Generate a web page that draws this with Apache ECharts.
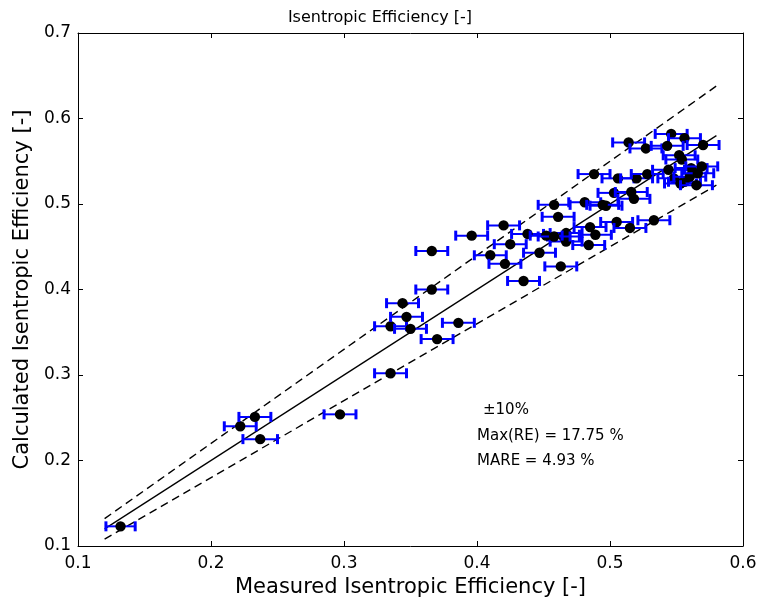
<!DOCTYPE html>
<html>
<head>
<meta charset="utf-8">
<script src="https://cdn.jsdelivr.net/npm/echarts@6/dist/echarts.min.js"></script>
<style>
html,body{margin:0;padding:0;background:#fff;}
#chart{width:757px;height:598px;}
</style>
</head>
<body>
<div id="chart"></div>
<script>
// Measured (x) and calculated (y) isentropic efficiency, with x uncertainty
const measured = [
  0.132, 0.222, 0.233, 0.237, 0.297, 0.335, 0.335, 0.344, 0.347, 0.350,
  0.366, 0.370, 0.386, 0.366, 0.396, 0.420, 0.425, 0.410, 0.421, 0.435,
  0.447, 0.438, 0.463, 0.458, 0.461, 0.481, 0.467, 0.465, 0.467, 0.484,
  0.489, 0.485, 0.497, 0.505, 0.515, 0.533, 0.488, 0.506, 0.520, 0.528,
  0.503, 0.516, 0.518, 0.514, 0.527, 0.546, 0.556, 0.543, 0.570, 0.552,
  0.554, 0.561, 0.544, 0.548, 0.556, 0.560, 0.566, 0.569, 0.553, 0.565,
  0.452, 0.458, 0.4945
];
const calculated = [
  0.123, 0.240, 0.251, 0.225, 0.254, 0.302, 0.357, 0.384, 0.368, 0.354,
  0.400, 0.342, 0.361, 0.445, 0.463, 0.475, 0.453, 0.440, 0.430, 0.410,
  0.443, 0.465, 0.427, 0.499, 0.485, 0.502, 0.466, 0.462, 0.456, 0.452,
  0.464, 0.473, 0.498, 0.479, 0.472, 0.481, 0.535, 0.530, 0.530, 0.535,
  0.513, 0.514, 0.506, 0.572, 0.565, 0.582, 0.577, 0.568, 0.569, 0.557,
  0.552, 0.542, 0.540, 0.530, 0.526, 0.532, 0.536, 0.544, 0.524, 0.522,
  0.463, 0.462, 0.499
];
const xErr = [
  0.011, 0.012, 0.012, 0.013, 0.012, 0.012, 0.012, 0.012, 0.012, 0.012,
  0.012, 0.012, 0.012, 0.012, 0.012, 0.012, 0.012, 0.012, 0.012, 0.012,
  0.012, 0.012, 0.012, 0.012, 0.012, 0.012, 0.012, 0.012, 0.012, 0.012,
  0.012, 0.012, 0.012, 0.012, 0.012, 0.012, 0.012, 0.012, 0.012, 0.012,
  0.012, 0.012, 0.012, 0.012, 0.012, 0.012, 0.012, 0.012, 0.012, 0.012,
  0.012, 0.012, 0.012, 0.012, 0.012, 0.012, 0.012, 0.012, 0.012, 0.012,
  0.012, 0.012, 0.012
];
// Reference lines: parity and +/-10 %
const refX = [0.12, 0.58];
const parityY = [0.12, 0.58];
const upperY = [0.132, 0.638];
const lowerY = [0.108, 0.522];
const xTicks = [0.1, 0.2, 0.3, 0.4, 0.5, 0.6];
const yTicks = [0.1, 0.2, 0.3, 0.4, 0.5, 0.6, 0.7];
const titleText = 'Isentropic Efficiency [-]';
const xName = 'Measured Isentropic Efficiency [-]';
const yName = 'Calculated Isentropic Efficiency [-]';
const notes = ['\u00b110%', 'Max(RE) = 17.75 %', 'MARE = 4.93 %'];

const FONT = 'DejaVu Sans';
const chart = echarts.init(document.getElementById('chart'), null, {renderer: 'canvas'});

const pts = measured.map((m, i) => [m, calculated[i], xErr[i]]);
const pair = (xs, ys) => xs.map((x, i) => [x, ys[i]]);

const axisCommon = {
  type: 'value',
  splitLine: {show: false},
  axisLine: {show: true, onZero: false, lineStyle: {color: '#000', width: 1}},
  axisTick: {show: true, inside: true, length: 5, lineStyle: {color: '#000'}},
};

const option = {
  animation: false,
  backgroundColor: '#fff',
  grid: {left: 78, right: 14, top: 33, bottom: 52, containLabel: false,
    outerBoundsMode: 'none'},
  xAxis: [
    Object.assign({}, axisCommon, {
      min: xTicks[0], max: xTicks[xTicks.length - 1], interval: 0.1,
      position: 'bottom',
      name: xName, nameLocation: 'middle', nameGap: 29,
      nameTextStyle: {fontFamily: FONT, fontSize: 21, color: '#000'},
      axisLabel: {fontFamily: FONT, fontSize: 17, color: '#000', margin: 9,
        formatter: v => v.toFixed(1)}
    }),
    Object.assign({}, axisCommon, {
      min: xTicks[0], max: xTicks[xTicks.length - 1], interval: 0.1,
      position: 'top', axisLabel: {show: false}
    })
  ],
  yAxis: [
    Object.assign({}, axisCommon, {
      min: yTicks[0], max: yTicks[yTicks.length - 1], interval: 0.1,
      position: 'left',
      name: yName, nameLocation: 'middle', nameGap: 43,
      nameTextStyle: {fontFamily: FONT, fontSize: 21, color: '#000'},
      axisLabel: {fontFamily: FONT, fontSize: 17, color: '#000', margin: 7,
        formatter: v => v.toFixed(1)}
    }),
    Object.assign({}, axisCommon, {
      min: yTicks[0], max: yTicks[yTicks.length - 1], interval: 0.1,
      position: 'right', axisLabel: {show: false}
    })
  ],
  series: [
    {type: 'line', data: pair(refX, parityY), showSymbol: false, silent: true,
      lineStyle: {color: '#000', width: 1.3}, z: 1},
    {type: 'line', data: pair(refX, upperY), showSymbol: false, silent: true,
      lineStyle: {color: '#000', width: 1.4, type: [8, 5]}, z: 1},
    {type: 'line', data: pair(refX, lowerY), showSymbol: false, silent: true,
      lineStyle: {color: '#000', width: 1.4, type: [8, 5]}, z: 1},
    {
      type: 'custom', data: pts, z: 5,
      encode: {x: 0, y: 1},
      renderItem: function (params, api) {
        const x = api.value(0), y = api.value(1), e = api.value(2);
        const p = api.coord([x, y]);
        const l = api.coord([x - e, y]);
        const r = api.coord([x + e, y]);
        const blue = '#0000ff';
        return {
          type: 'group',
          children: [
            {type: 'line', shape: {x1: l[0], y1: l[1], x2: r[0], y2: r[1]},
              style: {stroke: blue, lineWidth: 2}},
            {type: 'rect', shape: {x: l[0] - 1.5, y: l[1] - 5, width: 3, height: 10},
              style: {fill: blue}},
            {type: 'rect', shape: {x: r[0] - 1.5, y: r[1] - 5, width: 3, height: 10},
              style: {fill: blue}},
            {type: 'circle', shape: {cx: p[0], cy: p[1], r: 5.2},
              style: {fill: '#000'}}
          ]
        };
      }
    }
  ]
};
option.graphic = [
  {type: 'text', x: 380, y: 18, style: {text: titleText, fontFamily: FONT, fontSize: 16,
    fill: '#000', textAlign: 'center', textVerticalAlign: 'middle'}},
  {type: 'text', x: 483, y: 410, style: {text: notes[0], fontFamily: FONT, fontSize: 15,
    fill: '#000', textAlign: 'left', textVerticalAlign: 'middle'}},
  {type: 'text', x: 477, y: 436, style: {text: notes[1], fontFamily: FONT, fontSize: 15,
    fill: '#000', textAlign: 'left', textVerticalAlign: 'middle'}},
  {type: 'text', x: 477, y: 461, style: {text: notes[2], fontFamily: FONT, fontSize: 15,
    fill: '#000', textAlign: 'left', textVerticalAlign: 'middle'}}
];
chart.setOption(option);
</script>
</body>
</html>
